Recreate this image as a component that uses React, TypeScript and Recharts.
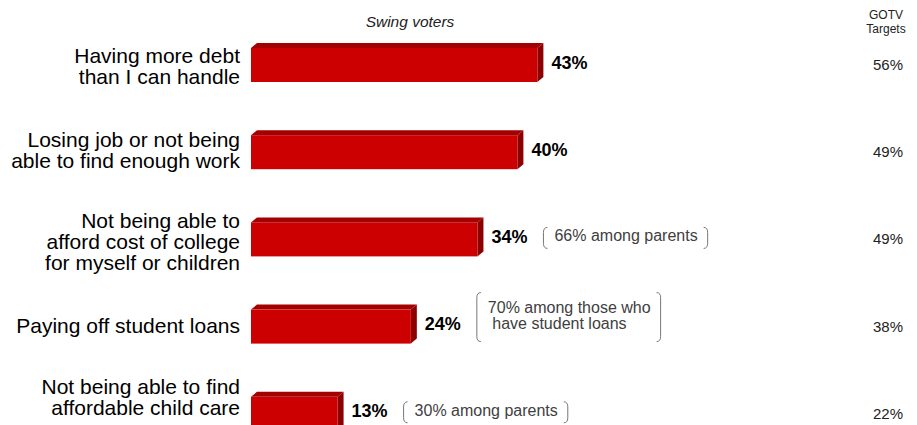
import React from "react";
import { Bar, BarChart, LabelList, XAxis, YAxis } from "recharts";

const categories = [
  "Having more debt\nthan I can handle",
  "Losing job or not being\nable to find enough work",
  "Not being able to\nafford cost of college\nfor myself or children",
  "Paying off student loans",
  "Not being able to find\naffordable child care",
];
const swingVoters = [43, 40, 34, 24, 13];
const gotvTargets = [56, 49, 49, 38, 22];
const notes = ["", "", "66% among parents", "70% among those who\n have student loans", "30% among parents"];

const data = categories.map((name, i) => ({
  name,
  swing: swingVoters[i],
  gotv: gotvTargets[i],
  note: notes[i],
}));

const FONT = "'Liberation Sans', Arial, Helvetica, sans-serif";
const W = 917;
const H = 460;
const DX = 6;
const DY = 5;
// small vertical nudges so the category text sits like the original slide
const labelNudge = [3, 0, 4, 1, -14];

let ctx: CanvasRenderingContext2D | null = null;
function textWidth(s: string, font: string) {
  if (!ctx) ctx = document.createElement("canvas").getContext("2d");
  if (!ctx) return s.length * 8.4;
  ctx.font = font;
  return ctx.measureText(s).width;
}

function Bar3D(props: any) {
  const { x, y, width, height } = props;
  const r = x + width;
  return (
    <g>
      <polygon points={`${x},${y + DY} ${x + DX},${y} ${r + DX},${y} ${r},${y + DY}`} fill="#a30000" />
      <polygon points={`${r},${y + DY} ${r + DX},${y} ${r + DX},${y + height - DY} ${r},${y + height}`} fill="#8c0000" />
      <rect x={x} y={y + DY} width={width} height={height - DY} fill="#cc0000" />
    </g>
  );
}

function CategoryTick(props: any) {
  const { y, payload } = props;
  const idx = categories.indexOf(payload.value);
  const lines = String(payload.value).split("\n");
  const cy = y + (labelNudge[idx] || 0);
  return (
    <text textAnchor="end" fontFamily={FONT} fontSize={21} fill="#000">
      {lines.map((l, i) => (
        <tspan key={i} x={240} y={cy + (i - (lines.length - 1) / 2) * 21} dominantBaseline="central">
          {l}
        </tspan>
      ))}
    </text>
  );
}

function ValueLabel(props: any) {
  const { x, y, width, height, value } = props;
  return (
    <text x={x + width + 14} y={y + height / 2} dominantBaseline="central" fontFamily={FONT} fontSize={18} fontWeight="bold" fill="#000">
      {value}%
    </text>
  );
}

function NoteLabel(props: any) {
  const { x, y, width, height, value } = props;
  if (!value) return null;
  const lines = String(value).split("\n");
  const n = lines.length;
  const c = y + height / 2;
  const left = x + width + 66;
  const font = `16px ${FONT}`;
  const tw = Math.max(...lines.map((l) => textWidth(l, font)));
  const right = left + 11 + tw + 10;
  const blockMid = c - 1 - ((n - 1) * 16) / 2;
  const bh = 21 + (n - 1) * 28;
  const top = blockMid + 2 - bh / 2;
  const bot = top + bh;
  const k = 5;
  return (
    <g>
      <path d={`M ${left + 4} ${top} Q ${left} ${top} ${left} ${top + k} L ${left} ${bot - k} Q ${left} ${bot} ${left + 4} ${bot}`} fill="none" stroke="#777" strokeWidth={1} />
      <path d={`M ${right - 4} ${top} Q ${right} ${top} ${right} ${top + k} L ${right} ${bot - k} Q ${right} ${bot} ${right - 4} ${bot}`} fill="none" stroke="#777" strokeWidth={1} />
      <text fontFamily={FONT} fontSize={16} fill="#404040" style={{ whiteSpace: "pre" }}>
        {lines.map((l, i) => (
          <tspan key={i} x={left + 11} y={c - 1 + (i - (n - 1)) * 16} dominantBaseline="central">
            {l}
          </tspan>
        ))}
      </text>
    </g>
  );
}

function GotvLabel(props: any) {
  const { y, height, value } = props;
  return (
    <text x={888} y={y + height / 2 + 2} textAnchor="middle" dominantBaseline="central" fontFamily={FONT} fontSize={15} fill="#222">
      {value}%
    </text>
  );
}

export default function App() {
  return (
    <div style={{ position: "absolute", left: 0, top: 0, width: W, height: 425, overflow: "hidden", background: "#fff" }}>
      <BarChart width={W} height={H} data={data} layout="vertical" margin={{ top: 19, right: 0, bottom: 5, left: 0 }}>
        <XAxis type="number" domain={[0, 100]} hide />
        <YAxis type="category" dataKey="name" width={251} axisLine={false} tickLine={false} tick={<CategoryTick />} interval={0} />
        <Bar dataKey="swing" barSize={39} shape={<Bar3D />} isAnimationActive={false}>
          <LabelList dataKey="swing" content={<ValueLabel />} />
          <LabelList dataKey="note" content={<NoteLabel />} />
          <LabelList dataKey="gotv" content={<GotvLabel />} />
        </Bar>
      </BarChart>
      <svg width={W} height={60} style={{ position: "absolute", left: 0, top: 0, pointerEvents: "none" }}>
        <text x={410} y={21} textAnchor="middle" dominantBaseline="central" fontFamily={FONT} fontSize={15.5} fontStyle="italic" fill="#222">
          Swing voters
        </text>
        <text x={886} y={15} textAnchor="middle" dominantBaseline="central" fontFamily={FONT} fontSize={12} fill="#222">
          GOTV
        </text>
        <text x={886} y={29} textAnchor="middle" dominantBaseline="central" fontFamily={FONT} fontSize={12} fill="#222">
          Targets
        </text>
      </svg>
    </div>
  );
}
